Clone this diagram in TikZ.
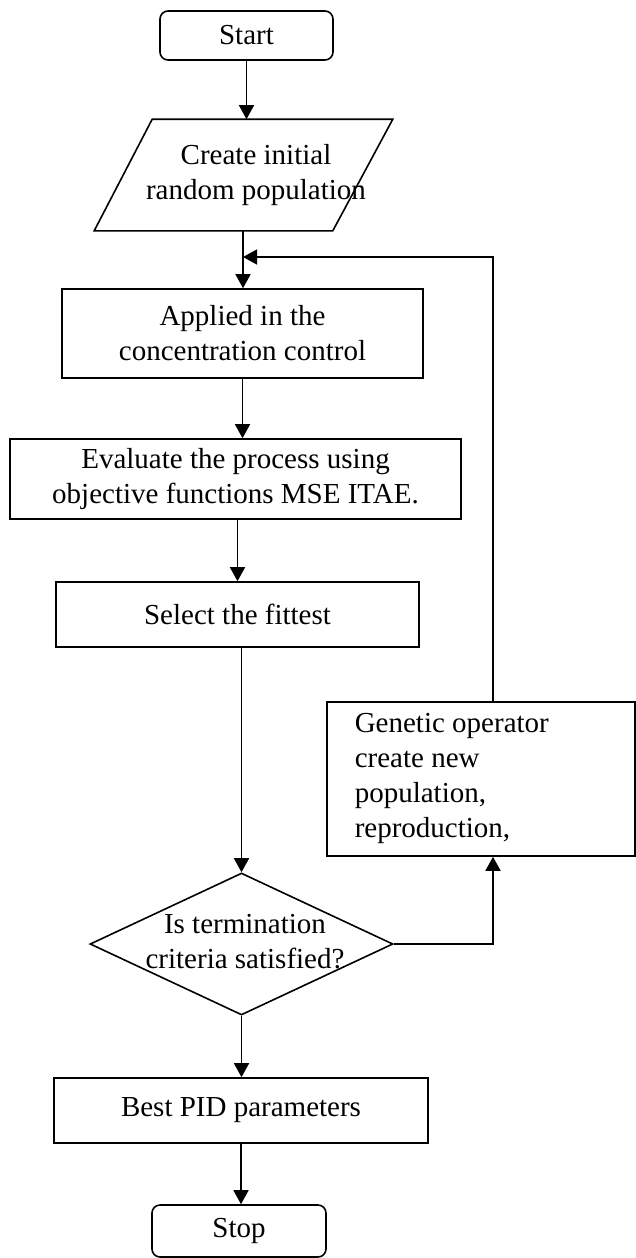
\documentclass[tikz,border=0pt]{standalone}
\usepackage{fontspec}
\setmainfont{Liberation Serif}
\usetikzlibrary{arrows.meta,shapes.geometric}
\begin{document}
\begin{tikzpicture}[x=1pt,y=-1pt, line width=1.6pt,
  every node/.style={font=\fontsize{29}{35}\selectfont},
  box/.style={draw, rectangle, inner sep=0pt, align=center},
  arr/.style={-{Triangle[width=15pt,length=14pt]}}]
\useasboundingbox (0,0) rectangle (636,1258);
% nodes
\node[box, rounded corners=8pt, minimum width=173pt, minimum height=49pt] (start) at (246.5,35.5) {Start};
\node[minimum width=238pt, minimum height=110pt, inner sep=0pt] (cr) at (243,175) {};
\draw ([xshift=29pt]cr.north west) -- ([xshift=30pt]cr.north east) -- ([xshift=-30pt]cr.south east) -- ([xshift=-29pt]cr.south west) -- cycle;
\node[align=center, inner sep=0pt] (crt) at (256,175) {Create initial\\random population};
\node[box, minimum width=361pt, minimum height=89pt] (app) at (242.5,333.5) {Applied in the\\concentration control};
\node[box, minimum width=451pt, minimum height=80pt] (ev) at (235.5,479) {Evaluate the process using\\objective functions MSE ITAE.};
\node[box, minimum width=363pt, minimum height=65pt] (sel) at (237.5,614.5) {Select the fittest};
\node[box, minimum width=308pt, minimum height=154pt] (gen) at (481,779) {};
\node[align=left, anchor=west, inner sep=0pt] (gent) at (354,778) {Genetic operator\\create new\\population,\\reproduction,};
\node[diamond, draw, minimum width=303pt, minimum height=142pt, inner sep=0pt] (dec) at (241.5,944) {};
\node[align=center, inner sep=0pt] (dect) at (245,942) {Is termination\\criteria satisfied?};
\node[box, minimum width=374pt, minimum height=65pt] (best) at (241,1110.5) {Best PID parameters};
\node[box, rounded corners=8pt, minimum width=174pt, minimum height=52pt] (stop) at (239,1231) {Stop};
\coordinate (fbx) at (493,0);
\coordinate (join) at (243,257);
% connectors
\draw[arr] (start.south) -- (start.south |- cr.north);
\draw[arr] (cr.south) -- (cr.south |- app.north);
\draw[arr] (app.south) -- (app.south |- ev.north);
\draw[arr] (ev.south -| sel.north) -- (sel.north);
\draw[arr] (sel.south -| dec.north) -- (dec.north);
\draw[arr] (dec.south) -- (dec.south |- best.north);
\draw[arr] (best.south) -- (best.south |- stop.north);
\draw[arr] (dec.east) -| (gen.south -| fbx);
\draw[arr] (gen.north -| fbx) |- (join);
\end{tikzpicture}
\end{document}
